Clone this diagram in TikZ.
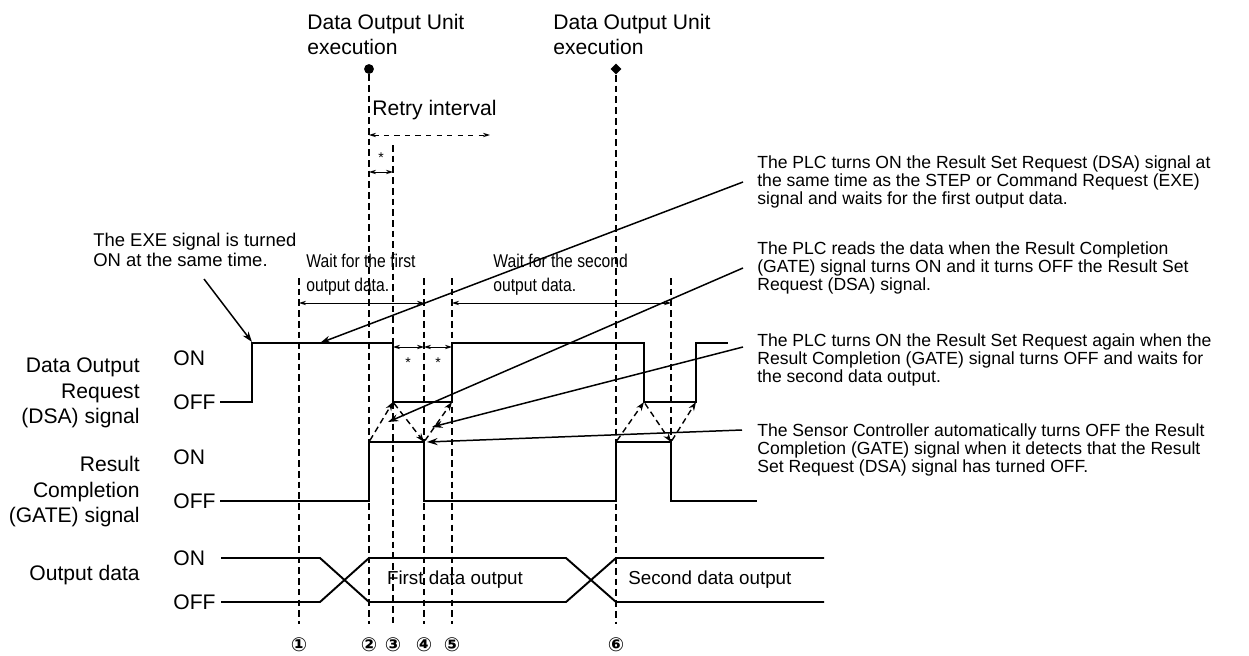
\documentclass[tikz,border=0pt]{standalone}
\usepackage{fontspec}
\setmainfont{Liberation Sans}
\newfontfamily\narrowfont[FakeStretch=0.85]{Liberation Sans}
\newfontfamily\circfont{DejaVu Sans}
\usetikzlibrary{arrows.meta, positioning, shapes.geometric}

\begin{document}
\begin{tikzpicture}[x=0.02cm, y=-0.02cm,
    sig/.style={line width=1.1pt},
    guide/.style={dash pattern=on 3.8pt off 2.3pt, line width=0.7pt},
    leader/.style={line width=0.85pt, -{Stealth[length=6pt,width=4pt]}},
    hop/.style={dash pattern=on 3.4pt off 2.3pt, line width=0.8pt,
                -{Stealth[length=5pt,width=3.5pt]}, shorten <=1pt},
    dim/.style={line width=0.5pt,
                {Stealth[length=4pt,width=2.5pt]}-{Stealth[length=4pt,width=2.5pt]}},
    note/.style={font=\fontsize{10}{10.4}\selectfont, align=left, inner sep=0pt, anchor=west},
    lvl/.style={font=\fontsize{12}{14}\selectfont, inner sep=0pt, anchor=west},
    signame/.style={font=\fontsize{12}{14.5}\selectfont, align=right, inner sep=0pt, anchor=east},
    numlbl/.style={font=\circfont\bfseries\fontsize{11}{11}\selectfont, inner sep=0pt}]
  \useasboundingbox (0,0) rectangle (1249,656);

  % execution points
  \node[anchor=west, align=left, inner sep=0pt, font=\fontsize{12}{14.2}\selectfont]
      (unit1) at (307,34.5) {Data Output Unit\\execution};
  \node[anchor=west, align=left, inner sep=0pt, font=\fontsize{12}{14.2}\selectfont]
      (unit2) at (553,34.5) {Data Output Unit\\execution};
  \node[circle, fill, minimum size=5.6pt, inner sep=0pt] (exec1) at (369,69) {};
  \node[diamond, fill, minimum size=6.4pt, inner sep=0pt] (exec2) at (616,69) {};

  % guide lines and their numbers
  \foreach \x/\k/\d in {299/n1/①, 369/n2/②, 393/n3/③, 424/n4/④, 452/n5/⑤, 616/n6/⑥}
    \node[numlbl] (\k) at (\x,645) {\d};
  \draw[guide, shorten >=8pt] (exec1) -- (n2.north);
  \draw[guide, shorten >=8pt] (exec2) -- (n6.north);
  \draw[guide, shorten >=8pt] (393,145) -- (n3.north);
  \foreach \x/\k in {299/n1, 424/n4, 452/n5}
    \draw[guide, shorten >=8pt] (\x,278) -- (\k.north);
  \draw[guide] (671,278) -- (671,442);

  % retry interval
  \node[lvl] (retry) at (372,110) {Retry interval};
  \draw[dim, dashed] (369,135) -- (490,135);
  \draw[dim] (369,172) -- (393,172);
  \node[font=\fontsize{8}{8}\selectfont] (star0) at (381,158) {*};

  % waiting spans
  \node[anchor=west, align=left, inner sep=0pt, font=\narrowfont\fontsize{10.5}{13.6}\selectfont]
      (wait1) at (306,275) {Wait for the first\\output data.};
  \node[anchor=west, align=left, inner sep=0pt, font=\narrowfont\fontsize{10.5}{13.6}\selectfont]
      (wait2) at (493,275) {Wait for the second\\output data.};
  \draw[dim] (299,303) -- (424,303);
  \draw[dim] (452,303) -- (671,303);

  % signal names and levels
  \node[signame] (dsa) at (140,393) {Data Output\\Request\\(DSA) signal};
  \node[signame] (gate) at (140,492) {Result\\Completion\\(GATE) signal};
  \node[signame] (odata) at (140,575) {Output data};
  \foreach \y/\lbl in {358/ON, 402/OFF, 457/ON, 501/OFF, 558/ON, 602/OFF}
    \node[lvl] at (173,\y) {\lbl};

  % DSA and GATE waveforms
  \draw[sig] (220,402) -- (252,402) -- (252,343) -- (393,343) -- (393,402) -- (452,402)
             -- (452,343) -- (644,343) -- (644,402) -- (696,402) -- (696,343) -- (728,343);
  \draw[sig] (220,501) -- (369,501) -- (369,442) -- (424,442) -- (424,501) -- (616,501)
             -- (616,442) -- (671,442) -- (671,501) -- (757,501);
  \draw[dim] (393,347) -- (424,347);
  \draw[dim] (424,347) -- (452,347);
  \node[font=\fontsize{8}{8}\selectfont] (star1) at (408,363) {*};
  \node[font=\fontsize{8}{8}\selectfont] (star2) at (438,363) {*};
  \foreach \a/\b in {369/393, 424/452, 616/644, 671/696}
    \draw[hop] (\a,442) -- (\b,402);
  \foreach \a/\b in {393/424, 644/671}
    \draw[hop] (\a,402) -- (\b,442);

  % output data bus
  \draw[sig] (221,558) -- (320,558) -- (369,602) -- (566,602) -- (616,558) -- (824,558);
  \draw[sig] (221,602) -- (320,602) -- (369,558) -- (566,558) -- (616,602) -- (824,602);
  \node[font=\fontsize{10.7}{12}\selectfont] (first) at (455,580) {First data output};
  \node[anchor=west, inner sep=0pt, font=\fontsize{10.7}{12}\selectfont]
      (second) at (628,580) {Second data output};

  % notes with leaders
  \node[anchor=west, align=left, inner sep=0pt, font=\fontsize{10.5}{11.3}\selectfont]
      (exe) at (93,250) {The EXE signal is turned\\ON at the same time.};
  \node[note] (note1) at (757,182) {The PLC turns ON the Result Set Request (DSA) signal at\\the same time as the STEP or Command Request (EXE)\\signal and waits for the first output data.};
  \node[note] (note2) at (757,268) {The PLC reads the data when the Result Completion\\(GATE) signal turns ON and it turns OFF the Result Set\\Request (DSA) signal.};
  \node[note] (note3) at (757,360) {The PLC turns ON the Result Set Request again when the\\Result Completion (GATE) signal turns OFF and waits for\\the second data output.};
  \node[note] (note4) at (757,450) {The Sensor Controller automatically turns OFF the Result\\Completion (GATE) signal when it detects that the Result\\Set Request (DSA) signal has turned OFF.};
  \coordinate (tailExe) at (204,279);
  \coordinate (tipExe) at (252,342);
  \coordinate (tail1) at (743,182);
  \coordinate (tip1) at (320,343);
  \coordinate (tail2) at (743,268);
  \coordinate (tip2) at (388,422);
  \coordinate (tail3) at (743,347);
  \coordinate (tip3) at (432,427);
  \coordinate (tail4) at (742,430);
  \coordinate (tip4) at (427,442);
  \foreach \s/\t in {tailExe/tipExe, tail1/tip1, tail2/tip2, tail3/tip3, tail4/tip4}
    \draw[leader] (\s) -- (\t);
\end{tikzpicture}
\end{document}
